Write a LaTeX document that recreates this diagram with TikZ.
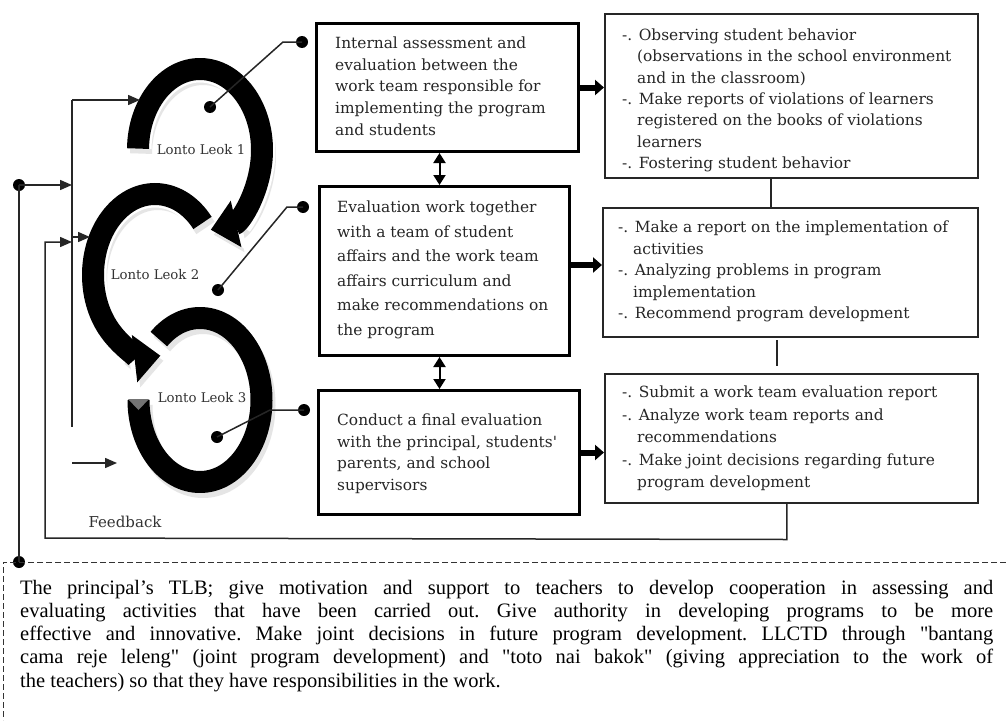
\documentclass[tikz,border=0pt]{standalone}
\usepackage{fontspec}
\setmainfont{Liberation Serif}[Ligatures=TeXOff]
\newfontfamily\boxfont{DejaVu Serif}
\usetikzlibrary{arrows.meta,calc}
\tikzset{
  lbox/.style={draw=black, line width=3pt, rectangle, inner sep=0pt, anchor=north west},
  rbox/.style={draw=black!85, line width=1.5pt, rectangle, inner sep=0pt, anchor=north west},
  btxt/.style={inner sep=0pt, anchor=base west, text=black!85},
  conn/.style={draw=black!85, line width=1.5pt},
  arr/.style={conn, -{Triangle[width=10pt,length=12pt]}},
  darr/.style={draw=black, line width=2pt, {Triangle[width=12pt,length=10pt]}-{Triangle[width=12pt,length=10pt]}},
  fat/.style={draw=black, line width=6pt, -{Triangle[width=15pt,length=9pt]}},
  dot/.style={circle, fill=black, inner sep=0pt, minimum size=12pt},
  ring/.style={line width=22pt, draw=black},
  ringhalo/.style={line width=27pt, draw=white, -{Triangle[width=54pt,length=31pt]}},
  ringshadow/.style={line width=22pt, draw=black!10},
  ringtip/.style={-{Triangle[width=46pt,length=26pt]}},
  shadowtip/.style={-{Triangle[width=46pt,length=26pt]}},
  lab/.style={font=\boxfont\fontsize{13.3pt}{16pt}\selectfont, text=black!80, inner sep=0pt},
}
\newcommand{\tb}[3]{\parbox[t]{#1}{\boxfont\fontsize{15.4pt}{#2}\selectfont\raggedright #3}}
\newcommand{\ind}{\hspace*{15pt}}
\begin{document}
\begin{tikzpicture}[x=1pt,y=-1pt]
\useasboundingbox (0,0) rectangle (1006,720);
\fill[white] (0,0) rectangle (1006,720);

% ---- ring shadows
\begin{scope}[shift={(3,5)}]
\draw[ringshadow] (200,400) ++(228:61.5 and 82) arc[start angle=228, end angle=540, x radius=61.5, y radius=82];
\draw[ringshadow, shadowtip] (155,275) ++(320:62 and 81) arc[start angle=320, end angle=85, x radius=62, y radius=81];
\draw[ringshadow, shadowtip] (200,150) ++(181:62 and 81) arc[start angle=181, end angle=440, x radius=62, y radius=81];
\end{scope}

% ---- rings
\draw[ring] (200,400) ++(228:61.5 and 82) arc[start angle=228, end angle=540, x radius=61.5, y radius=82];
\fill[black!55] (128,399) -- (149,399) -- (138.5,410) -- cycle;
\draw[ringhalo] (155,275) ++(320:62 and 81) arc[start angle=320, end angle=85, x radius=62, y radius=81];
\draw[ring, ringtip] (155,275) ++(320:62 and 81) arc[start angle=320, end angle=85, x radius=62, y radius=81];
\draw[ringhalo] (200,150) ++(181:62 and 81) arc[start angle=181, end angle=440, x radius=62, y radius=81];
\draw[ring, ringtip] (200,150) ++(181:62 and 81) arc[start angle=181, end angle=440, x radius=62, y radius=81];

\node[lab] (l1) at (201,150) {Lonto Leok 1};
\node[lab] (l2) at (155,275) {Lonto Leok 2};
\node[lab] (l3) at (202,398) {Lonto Leok 3};
\node[lab, font=\boxfont\fontsize{15pt}{18pt}\selectfont] (fbl) at (125,522) {Feedback};

% ---- left boxes
\node[lbox, minimum width=262pt, minimum height=128pt] (box1) at (315,22) {};
\node[lbox, minimum width=250pt, minimum height=169pt] (box2) at (318,185) {};
\node[lbox, minimum width=261pt, minimum height=124pt] (box3) at (317,389) {};

\node[btxt] (t1) at (335,48.5) {\tb{240pt}{21.7pt}{Internal assessment and\\evaluation between the\\work team responsible for\\implementing the program\\and students}};
\node[btxt] (t2) at (337,212.5) {\tb{240pt}{24.6pt}{Evaluation work together\\with a team of student\\affairs and the work team\\affairs curriculum and\\make recommendations on\\the program}};
\node[btxt] (t3) at (337,425.5) {\tb{240pt}{21.7pt}{Conduct a final evaluation\\with the principal, students'\\parents, and school\\supervisors}};

% ---- right boxes
\node[rbox, minimum width=373pt, minimum height=164pt] (r1) at (604,13) {};
\node[rbox, minimum width=375pt, minimum height=129pt] (r2) at (602,207) {};
\node[rbox, minimum width=373pt, minimum height=129pt] (r3) at (604,373) {};

\node[btxt] (s1) at (622,40.5) {\tb{360pt}{21.3pt}{-. Observing student behavior\\\ind(observations in the school environment\\\ind and in the classroom)\\-. Make reports of violations of learners\\\ind registered on the books of violations\\\ind learners\\-. Fostering student behavior}};
\node[btxt] (s2) at (618,232.5) {\tb{360pt}{21.5pt}{-. Make a report on the implementation of\\\ind activities\\-. Analyzing problems in program\\\ind implementation\\-. Recommend program development}};
\node[btxt] (s3) at (622,397.5) {\tb{360pt}{22.5pt}{-. Submit a work team evaluation report\\-. Analyze work team reports and\\\ind recommendations\\-. Make joint decisions regarding future\\\ind program development}};

% ---- arrows between boxes
\draw[darr] ([xshift=-8pt]box1.south) -- ([xshift=-8pt]box1.south |- box2.north);
\draw[darr] ([xshift=-5pt]box2.south) -- ([xshift=-5pt]box2.south |- box3.north);
\draw[fat] (box1.east) -- (box1.east -| r1.west);
\draw[fat] ([yshift=6pt]box2.east) -- ([yshift=6pt]box2.east -| r2.west);
\draw[fat] (box3.east) -- (box3.east -| r3.west);
\draw[conn] ([xshift=-20.5pt]r1.south) -- ([xshift=-20.5pt]r1.south |- r2.north);
\coordinate (c23a) at (777,340);
\coordinate (c23b) at (777,366);
\draw[conn] (c23a) -- (c23b);

% ---- dots from rings to boxes
\node[dot] (d1a) at (210,107) {};
\node[dot] (d1b) at (302,42) {};
\draw[conn] (d1a.center) -- (283,42) -- (d1b.center);
\node[dot] (d2a) at (218,290) {};
\node[dot] (d2b) at (303,207) {};
\draw[conn] (d2a.center) -- (287,207) -- (d2b.center);
\node[dot] (d3a) at (217,437) {};
\node[dot] (d3b) at (304,410) {};
\draw[conn] (d3a.center) -- (270,410) -- (d3b.center);

% ---- left connectors
\node[dot] (d0) at (19,185) {};
\node[dot] (d4) at (19,562) {};
\coordinate (v1) at (72,100);
\coordinate (v2) at (72,427);
\coordinate (in1) at (140,100);
\coordinate (in2) at (90,237);
\coordinate (a3s) at (72,463);
\coordinate (a3e) at (117,463);
\draw[conn] (v1) -- (v2);
\draw[arr] (v1) -- (in1);
\draw[arr] (72,237) -- (in2);
\draw[arr] (a3s) -- (a3e);
\draw[arr] (d0.center) -- (d0 -| v1);
\draw[conn] (d0.center) -- (d4.center);
\draw[arr] ([xshift=-4.5pt]r3.south) -- ++(0,36) -- (45,538) -- (45,242) -- (72,242);

% ---- dashed box
\draw[black!80, line width=1pt, dash pattern=on 6pt off 3pt] (1006,562) -- (d4.center) -- (3,562) -- (3,720);

\node[btxt, text=black] (tlb) at (20,594) {\parbox[t]{973pt}{\fontsize{20.5pt}{23.3pt}\selectfont\frenchspacing\hyphenpenalty=10000 The principal’s TLB; give motivation and support to teachers to develop cooperation in assessing and\linebreak evaluating activities that have been carried out. Give authority in developing programs to be more\linebreak effective and innovative. Make joint decisions in future program development. LLCTD through "bantang\linebreak cama reje leleng" (joint program development) and "toto nai bakok" (giving appreciation to the work of\linebreak the teachers) so that they have responsibilities in the work.}};
\end{tikzpicture}
\end{document}
